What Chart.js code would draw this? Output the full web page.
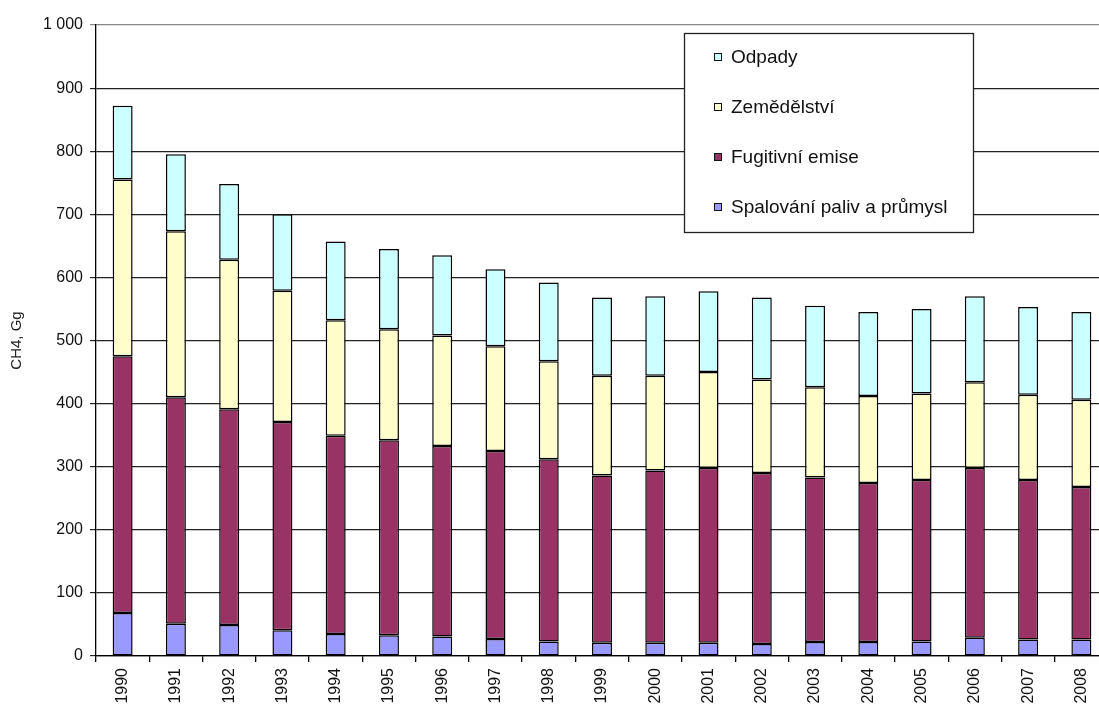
<!DOCTYPE html>
<html lang="cs">
<head>
<meta charset="UTF-8">
<title>Emise CH4</title>
<script src="https://cdn.jsdelivr.net/npm/chart.js"></script>
<style>
    html, body { margin: 0; padding: 0; background: #fff; overflow: hidden; }
    #wrap { width: 1116px; height: 706px; }
</style>
</head>
<body>
<div id="wrap"><canvas id="ch4Chart" width="1116" height="706"></canvas></div>
<script>
const roky = ['1990','1991','1992','1993','1994','1995','1996','1997','1998','1999',
              '2000','2001','2002','2003','2004','2005','2006','2007','2008'];
const spalovani = [68, 51, 49, 41, 35, 33, 31, 27, 23, 21, 21, 21, 19, 22, 22, 23, 29, 26, 26];
const fugitivni = [407, 359, 342, 330, 314, 309, 302, 298, 289, 265, 273, 277, 271, 261, 252, 256, 269, 253, 242];
const zemedelstvi = [280, 263, 237, 208, 183, 176, 175, 166, 155, 158, 150, 152, 148, 143, 138, 137, 136, 135, 138];
const odpady = [117, 122, 120, 121, 125, 127, 127, 122, 125, 124, 126, 128, 130, 129, 133, 134, 136, 139, 139];
const yTicks = [0, 100, 200, 300, 400, 500, 600, 700, 800, 900, 1000];

Chart.defaults.font.family = 'Arial, "Liberation Sans", sans-serif';
Chart.defaults.color = '#111';

// legenda v rámečku uvnitř grafu, v obráceném pořadí
const legendBox = {
    id: 'legendBox',
    afterDraw(chart) {
        const ctx = chart.ctx;
        const x = 684, y = 33, w = 289, h = 199;
        ctx.save();
        ctx.fillStyle = '#fff';
        ctx.fillRect(x, y, w, h);
        ctx.strokeStyle = '#222';
        ctx.lineWidth = 1.3;
        ctx.strokeRect(x + 0.5, y + 0.5, w, h);
        ctx.font = '19px Arial, "Liberation Sans", sans-serif';
        ctx.textBaseline = 'middle';
        chart.data.datasets.slice().reverse().forEach((d, i) => {
            const cy = y + 24 + i * 50;
            ctx.fillStyle = d.backgroundColor;
            ctx.fillRect(714, cy - 4, 8, 8);
            ctx.strokeStyle = '#111';
            ctx.lineWidth = 1;
            ctx.strokeRect(714.5, cy - 3.5, 7, 7);
            ctx.fillStyle = '#111';
            ctx.fillText(d.label, 731, cy + 1);
        });
        ctx.restore();
    }
};

const barStyle = { borderColor: '#000', borderWidth: 1.5, borderSkipped: false,
                   barPercentage: 0.375, categoryPercentage: 1 };

new Chart(document.getElementById('ch4Chart').getContext('2d'), {
    type: 'bar',
    data: {
        labels: roky,
        datasets: [
            { label: 'Spalování paliv a průmysl', data: spalovani, backgroundColor: '#9999FF', ...barStyle },
            { label: 'Fugitivní emise', data: fugitivni, backgroundColor: '#993366', ...barStyle },
            { label: 'Zemědělství', data: zemedelstvi, backgroundColor: '#FFFFCC', ...barStyle },
            { label: 'Odpady', data: odpady, backgroundColor: '#CCFFFF', ...barStyle }
        ]
    },
    options: {
        responsive: false,
        animation: false,
        layout: { padding: { top: 25, right: 8, left: 0, bottom: 0 } },
        plugins: { legend: { display: false }, tooltip: { enabled: false } },
        scales: {
            x: {
                stacked: true,
                grid: { offset: true, drawOnChartArea: false, drawTicks: true, tickLength: 6, color: '#000', lineWidth: 1.3 },
                border: { color: '#000', width: 1.3 },
                ticks: { minRotation: 90, maxRotation: 90, padding: 6, font: { size: 16 }, color: '#111' },
                afterFit: s => { s.height = 50; }
            },
            y: {
                stacked: true,
                min: 0,
                max: 1000,
                afterBuildTicks: s => { s.ticks = yTicks.map(v => ({ value: v })); },
                grid: { color: c => c.tick && c.tick.value === 1000 ? '#888' : '#222', lineWidth: 1.2, tickLength: 6 },
                border: { color: '#000', width: 1.3 },
                ticks: { padding: 7, font: { size: 16 }, color: '#111',
                         callback: v => v === 1000 ? '1 000' : v },
                title: { display: true, text: 'CH4, Gg', font: { size: 15 }, color: '#222', padding: { top: 8, bottom: 0 } },
                afterFit: s => { s.width = 96; }
            }
        }
    },
    plugins: [legendBox]
});
</script>
</body>
</html>
